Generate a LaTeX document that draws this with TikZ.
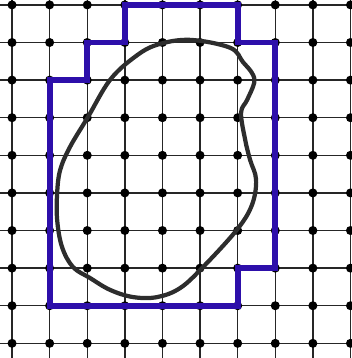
\documentclass[tikz,border=0pt]{standalone}
\usepackage{tikz}
\usetikzlibrary{calc}
\definecolor{contorno}{RGB}{45,15,170}
\definecolor{curva}{RGB}{45,45,45}

\begin{document}
\begin{tikzpicture}[y=-1cm,
        rejilla/.style={black!85, line width=1.1pt},
        punto/.style={circle, fill=black, inner sep=0pt, minimum size=2.4mm},
        borde/.style={contorno, line width=4.4pt, line join=miter},
        mancha/.style={curva, line width=3.2pt}]

    \useasboundingbox (-0.32,-0.13) rectangle (9.02,9.39);

    % Rejilla
    \foreach \i in {0,...,9} {
        \draw[rejilla] (\i,-0.13) -- (\i,9.39);
        \draw[rejilla] (-0.32,\i) -- (9.02,\i);
    }
    \foreach \i in {0,...,9}
        \foreach \j in {0,...,9}
            \node[punto] (p\i\j) at (\i,\j) {};

    % Contorno exterior
    \draw[borde] (1,8) -- (1,2) -- (2,2) -- (2,1) -- (3,1) -- (3,0) -- (6,0)
        -- (6,1) -- (7,1) -- (7,7) -- (6,7) -- (6,8) -- cycle;

    % Figura
    \draw[mancha] plot[smooth cycle, tension=0.6] coordinates {
        (4.73,0.93) (5.80,1.14) (6.14,1.52) (6.38,1.81) (6.44,2.07) (6.25,2.53)
        (6.09,2.87) (6.20,3.59) (6.33,4.12) (6.49,4.65) (6.38,5.32) (5.98,5.98)
        (5.08,6.97) (4.47,7.53) (3.86,7.77) (3.22,7.77) (2.61,7.58) (2.07,7.26)
        (1.62,6.97) (1.33,6.44) (1.20,5.72) (1.20,5.00) (1.28,4.39) (1.54,3.78)
        (2.02,2.98) (2.61,1.99) (3.27,1.38) (3.86,1.06)};
\end{tikzpicture}
\end{document}
